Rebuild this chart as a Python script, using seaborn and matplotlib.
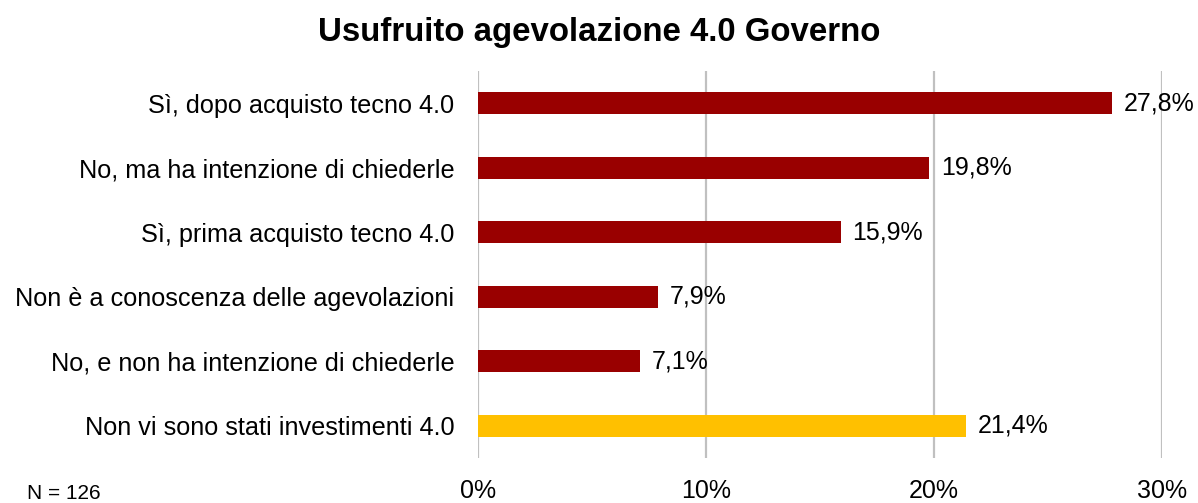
import matplotlib
matplotlib.use("Agg")
import matplotlib.pyplot as plt
import seaborn as sns
import pandas as pd

categories = [
    "Sì, dopo acquisto tecno 4.0",
    "No, ma ha intenzione di chiederle",
    "Sì, prima acquisto tecno 4.0",
    "Non è a conoscenza delle agevolazioni",
    "No, e non ha intenzione di chiederle",
    "Non vi sono stati investimenti 4.0",
]
values = [27.8, 19.8, 15.9, 7.9, 7.1, 21.4]
bar_colors = ["#990000", "#990000", "#990000", "#990000", "#990000", "#FFC000"]
x_ticks = [0, 10, 20, 30]
x_tick_labels = ["0%", "10%", "20%", "30%"]

sns.set_theme(style="white")
plt.rcParams["font.family"] = ["Liberation Sans", "DejaVu Sans"]

df = pd.DataFrame({"categoria": categories, "valore": values})

fig = plt.figure(figsize=(11.98, 5.03), dpi=100)
ax = fig.add_axes([0.399, 0.0895, 0.571, 0.769])

sns.barplot(
    data=df, y="categoria", x="valore", hue="categoria",
    palette=bar_colors, saturation=1, orient="h", width=0.34, legend=False,
    linewidth=0, ax=ax,
)

ax.set_xlim(0, 30)
ax.set_ylim(5.5, -0.5)
ax.set_xticks(x_ticks)
ax.set_xticklabels(x_tick_labels)
ax.xaxis.grid(True, color="#C0C0C0", linewidth=1.6)
ax.set_axisbelow(True)
for s in ax.spines.values():
    s.set_visible(False)
ax.tick_params(axis="x", length=0, pad=15, labelsize=18, colors="black")
ax.tick_params(axis="y", length=0, pad=17, labelsize=18.2, colors="black")
ax.set_xlabel("")
ax.set_ylabel("")

for i, v in enumerate(values):
    ax.text(v + 0.5, i, f"{v:.1f}%".replace(".", ","), va="center", ha="left",
            fontsize=18, color="black")

fig.text(0.5, 0.935, "Usufruito agevolazione 4.0 Governo", ha="center", va="center",
         fontsize=23.8, fontweight="bold", color="black")
fig.text(0.0225, 0.0, "N = 126", ha="left", va="bottom", fontsize=15, color="black")

fig.savefig("out.png", dpi=100, facecolor="white")
